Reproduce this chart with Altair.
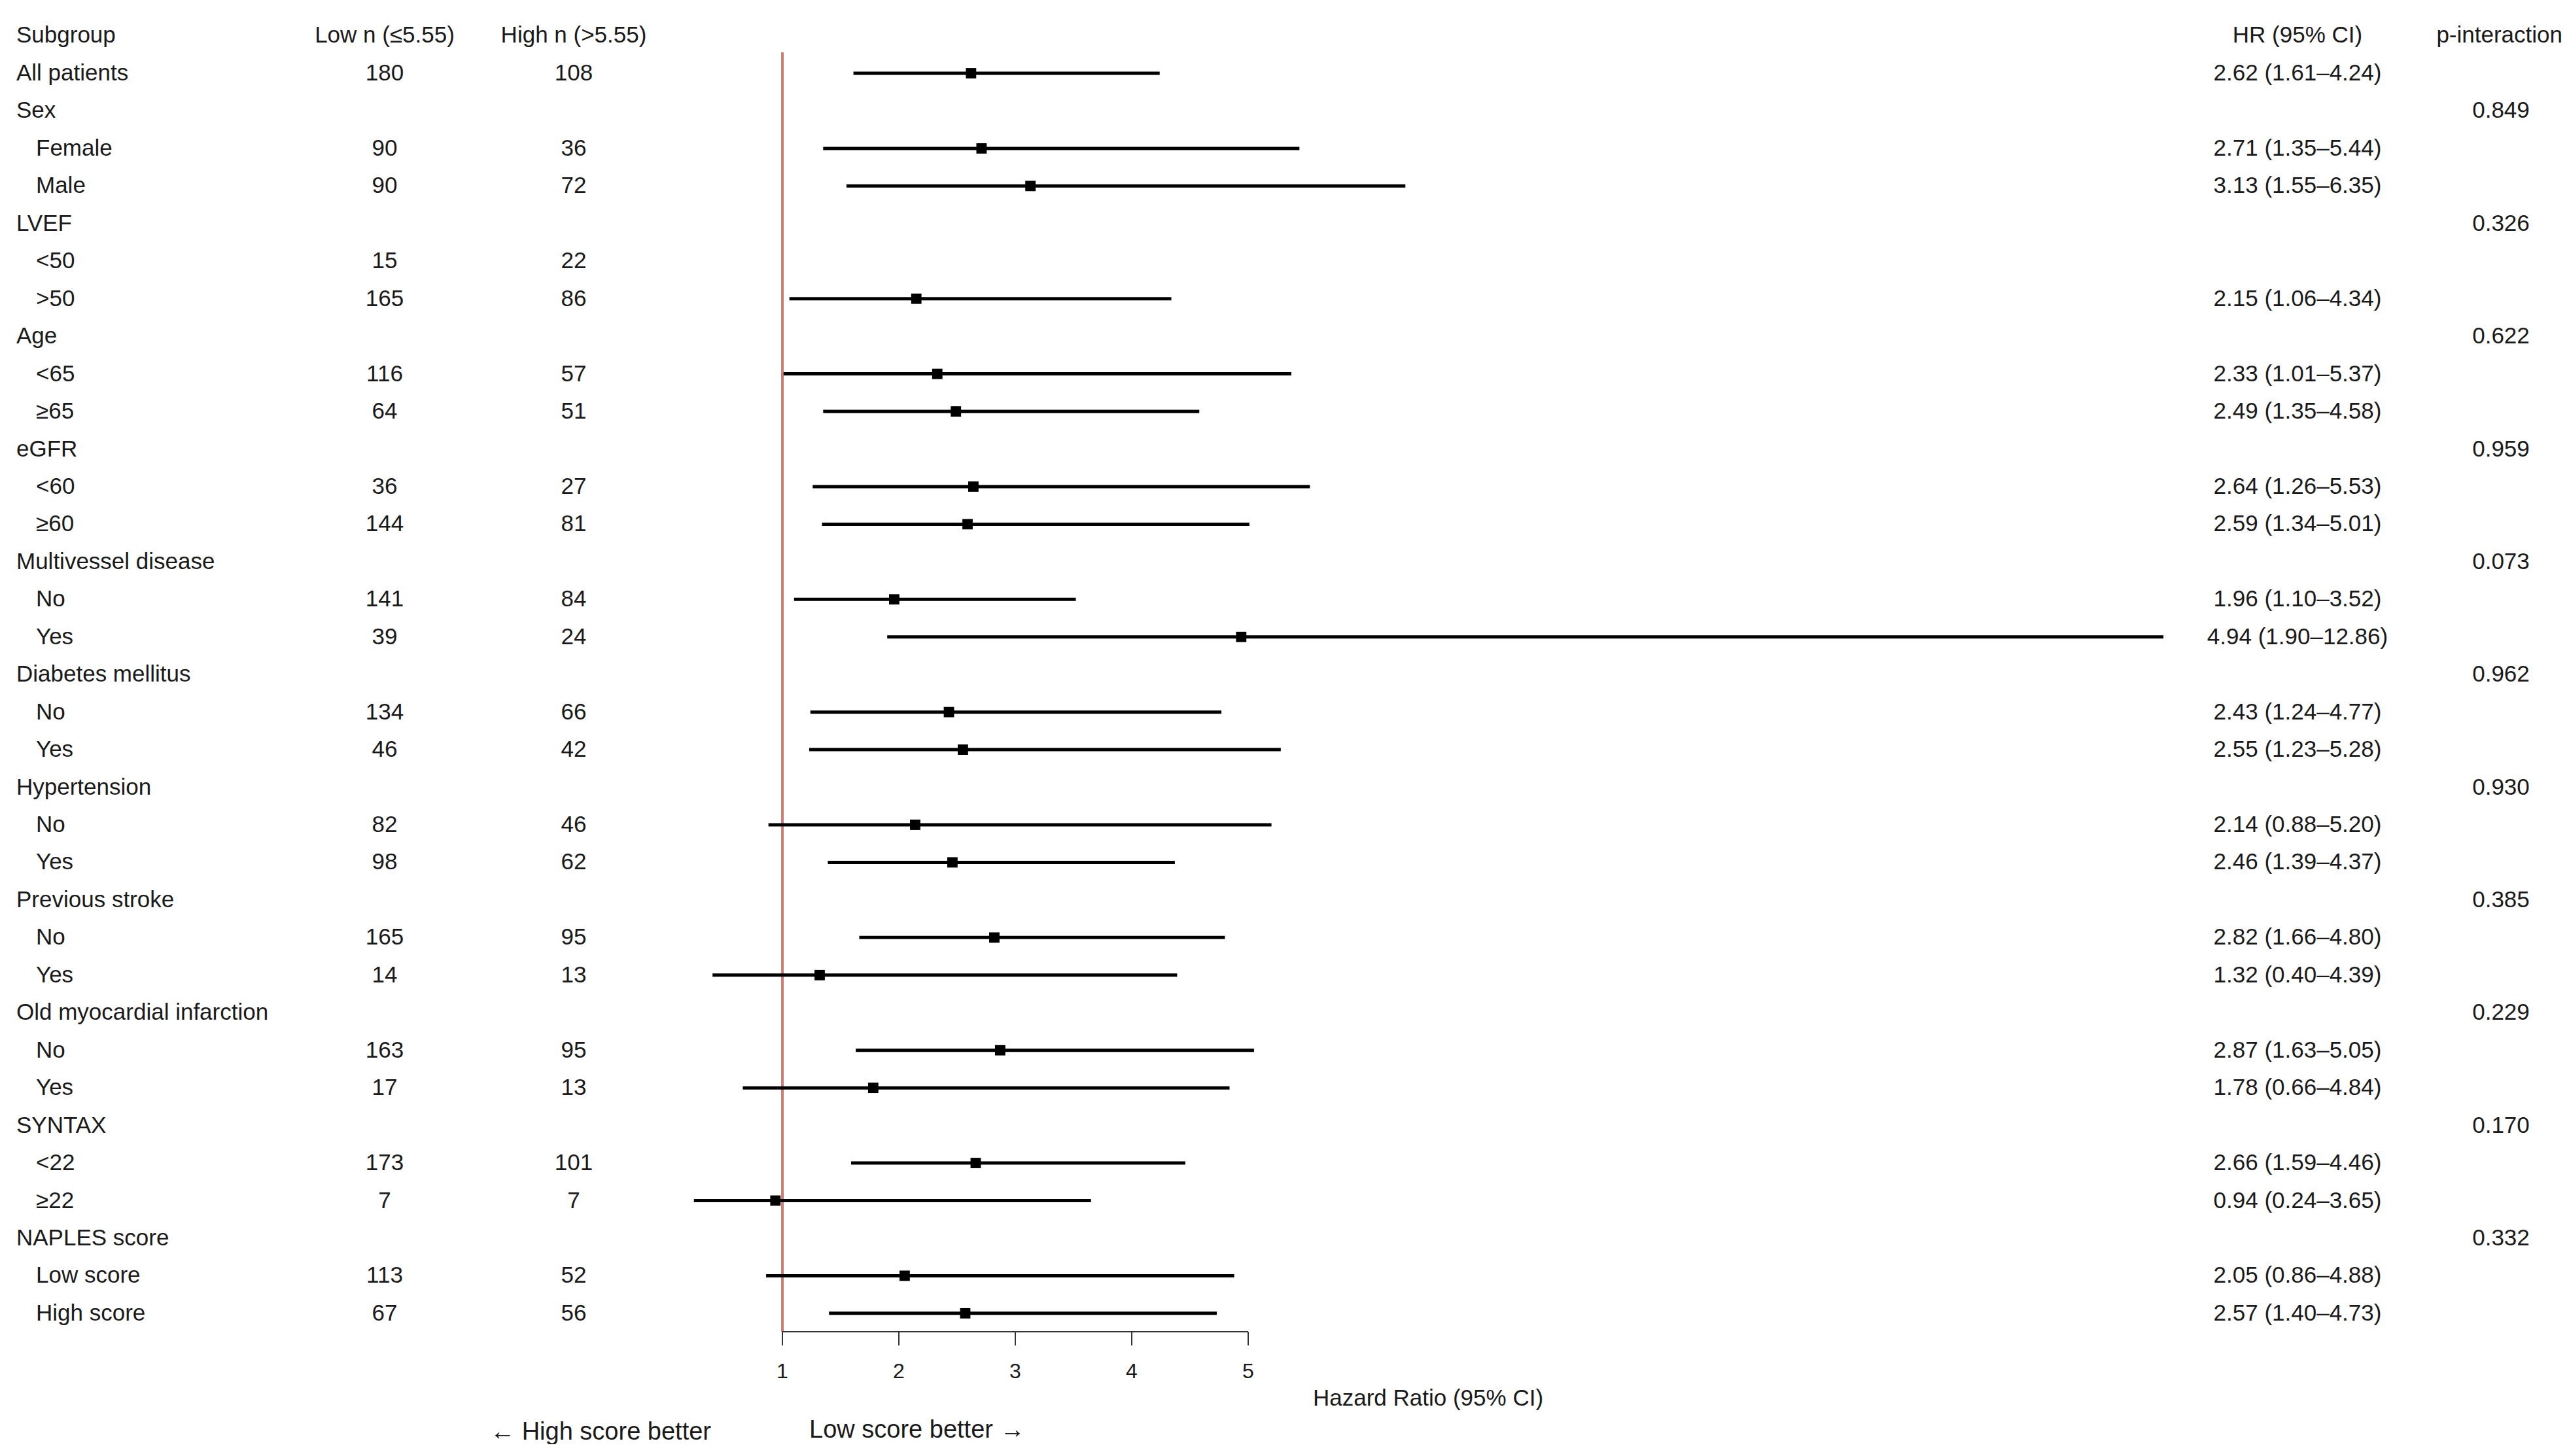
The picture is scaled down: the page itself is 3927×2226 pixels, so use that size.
import altair as alt
import pandas as pd

# ---------------- data ----------------
LABELS = ["All patients", "Sex", "Female", "Male", "LVEF", "<50", ">50",
          "Age", "<65", "≥65", "eGFR", "<60", "≥60",
          "Multivessel disease", "No", "Yes", "Diabetes mellitus", "No", "Yes",
          "Hypertension", "No", "Yes", "Previous stroke", "No", "Yes",
          "Old myocardial infarction", "No", "Yes", "SYNTAX", "<22", "≥22",
          "NAPLES score", "Low score", "High score"]
INDENT = [0, 0, 1, 1, 0, 1, 1, 0, 1, 1, 0, 1, 1, 0, 1, 1, 0, 1, 1,
          0, 1, 1, 0, 1, 1, 0, 1, 1, 0, 1, 1, 0, 1, 1]
LOW_N = ["180", "", "90", "90", "", "15", "165", "", "116", "64", "", "36", "144",
         "", "141", "39", "", "134", "46", "", "82", "98", "", "165", "14",
         "", "163", "17", "", "173", "7", "", "113", "67"]
HIGH_N = ["108", "", "36", "72", "", "22", "86", "", "57", "51", "", "27", "81",
          "", "84", "24", "", "66", "42", "", "46", "62", "", "95", "13",
          "", "95", "13", "", "101", "7", "", "52", "56"]
HR = [2.62, None, 2.71, 3.13, None, None, 2.15, None, 2.33, 2.49, None, 2.64, 2.59,
      None, 1.96, 4.94, None, 2.43, 2.55, None, 2.14, 2.46, None, 2.82, 1.32,
      None, 2.87, 1.78, None, 2.66, 0.94, None, 2.05, 2.57]
CI_LO = [1.61, None, 1.35, 1.55, None, None, 1.06, None, 1.01, 1.35, None, 1.26, 1.34,
         None, 1.10, 1.90, None, 1.24, 1.23, None, 0.88, 1.39, None, 1.66, 0.40,
         None, 1.63, 0.66, None, 1.59, 0.24, None, 0.86, 1.40]
CI_HI = [4.24, None, 5.44, 6.35, None, None, 4.34, None, 5.37, 4.58, None, 5.53, 5.01,
         None, 3.52, 12.86, None, 4.77, 5.28, None, 5.20, 4.37, None, 4.80, 4.39,
         None, 5.05, 4.84, None, 4.46, 3.65, None, 4.88, 4.73]
P_INT = ["", "0.849", "", "", "0.326", "", "", "0.622", "", "", "0.959", "", "",
         "0.073", "", "", "0.962", "", "", "0.930", "", "", "0.385", "", "",
         "0.229", "", "", "0.170", "", "", "0.332", "", ""]
HEADERS = ["Subgroup", "Low n (≤5.55)", "High n (>5.55)", "HR (95% CI)", "p-interaction"]
TICKS = [1, 2, 3, 4, 5]
AXIS_TITLE = "Hazard Ratio (95% CI)"
LEFT_NOTE = "← High score better"
RIGHT_NOTE = "Low score better →"

hr_text = [f"{h:.2f} ({l:.2f}–{u:.2f})" if h is not None else ""
           for h, l, u in zip(HR, CI_LO, CI_HI)]

df = pd.DataFrame({
    "row": list(range(len(LABELS))),
    "label": LABELS,
    "indent": INDENT,
    "low": LOW_N,
    "high": HIGH_N,
    "hr": HR,
    "lo": CI_LO,
    "hi": CI_HI,
    "hrtxt": hr_text,
    "p": P_INT,
})

# ---------------- layout ----------------
FONT = "Liberation Sans"
FS = 35
TXT = "#1a1a1a"
W, H = 3911, 2200
X1_PX, PX_PER_UNIT = 1188, 178.0
ROW0_PX, ROW_STEP = 104, 57.45
AXIS_Y = 2028

xs = alt.Scale(domain=[1 - X1_PX / PX_PER_UNIT, 1 + (W - X1_PX) / PX_PER_UNIT],
               nice=False, zero=False)
ys = alt.Scale(domain=[-ROW0_PX / ROW_STEP, (H - ROW0_PX) / ROW_STEP],
               nice=False, zero=False, reverse=True)
Y = alt.Y("row:Q", scale=ys, axis=None)

base = alt.Chart(df)


def text_col(field, xpx, align, extra_filter=None):
    ch = base
    if extra_filter is not None:
        ch = ch.transform_filter(extra_filter)
    return ch.mark_text(font=FONT, fontSize=FS, color=TXT, align=align,
                        baseline="middle").encode(
        x=alt.value(xpx), y=Y, text=f"{field}:N")


lab_main = text_col("label", 17, "left", alt.datum.indent == 0)
lab_sub = text_col("label", 47, "left", alt.datum.indent == 1)
low_col = text_col("low", 580, "center")
high_col = text_col("high", 869, "center")
hr_col = text_col("hrtxt", 3504, "center")
p_col = text_col("p", 3815, "center")

HEADER_X = [17, 580, 869, 3504, 3909]
HEADER_ALIGN = ["left", "center", "center", "center", "right"]
headers = []
for t, xp, al in zip(HEADERS, HEADER_X, HEADER_ALIGN):
    headers.append(
        alt.Chart(alt.Data(values=[{"t": t}])).mark_text(
            font=FONT, fontSize=FS, color=TXT, align=al, baseline="middle"
        ).encode(x=alt.value(xp), y=alt.value(46), text="t:N")
    )

one = alt.Data(values=[{"v": 1}])

ref_line = alt.Chart(one).mark_rule(color="#c97e77", strokeWidth=4).encode(
    x=alt.X("v:Q", scale=xs, axis=None),
    y=alt.value(72), y2=alt.value(AXIS_Y))

ci = base.transform_filter("isValid(datum.hr)").mark_rule(
    color="black", strokeWidth=5).encode(
    x=alt.X("lo:Q", scale=xs, axis=None), x2="hi:Q", y=Y)

pts = base.transform_filter("isValid(datum.hr)").mark_square(
    color="black", size=250, opacity=1).encode(
    x=alt.X("hr:Q", scale=xs, axis=None), y=Y)

tick_df = pd.DataFrame({"t": TICKS})
axis_line = alt.Chart(alt.Data(values=[{"a": TICKS[0], "b": TICKS[-1]}])).mark_rule(
    color="#333333", strokeWidth=2).encode(
    x=alt.X("a:Q", scale=xs, axis=None), x2="b:Q", y=alt.value(AXIS_Y))
tick_marks = alt.Chart(tick_df).mark_rule(color="#333333", strokeWidth=2).encode(
    x=alt.X("t:Q", scale=xs, axis=None), y=alt.value(AXIS_Y), y2=alt.value(AXIS_Y + 21))
tick_labels = alt.Chart(tick_df).mark_text(
    font=FONT, fontSize=32, color=TXT, align="center", baseline="middle").encode(
    x=alt.X("t:Q", scale=xs, axis=None), y=alt.value(AXIS_Y + 61), text="t:Q")

axis_title = alt.Chart(alt.Data(values=[{"t": AXIS_TITLE}])).mark_text(
    font=FONT, fontSize=FS, color=TXT, align="center", baseline="middle").encode(
    x=alt.value(2175), y=alt.value(2130), text="t:N")
left_note = alt.Chart(alt.Data(values=[{"t": LEFT_NOTE}])).mark_text(
    font=FONT, fontSize=38, color=TXT, align="right", baseline="middle").encode(
    x=alt.value(1079), y=alt.value(2182), text="t:N")
right_note = alt.Chart(alt.Data(values=[{"t": RIGHT_NOTE}])).mark_text(
    font=FONT, fontSize=38, color=TXT, align="left", baseline="middle").encode(
    x=alt.value(1229), y=alt.value(2179), text="t:N")

chart = alt.layer(
    ref_line, ci, pts, axis_line, tick_marks, tick_labels,
    lab_main, lab_sub, low_col, high_col, hr_col, p_col,
    *headers, axis_title, left_note, right_note
).properties(
    width=W, height=H, padding=0,
    autosize=alt.AutoSizeParams(type="none"),
    background="white"
).configure_view(strokeOpacity=0)

chart.save("out.html", embed_options={"renderer": "svg", "actions": False})
